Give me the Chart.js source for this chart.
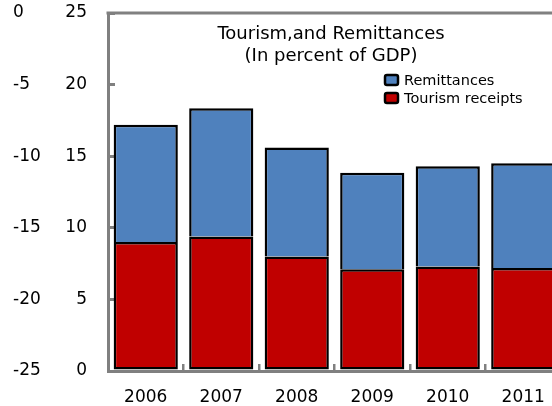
<!DOCTYPE html>
<html>
<head>
<meta charset="utf-8">
<script src="https://cdn.jsdelivr.net/npm/chart.js@4"></script>
<style>
  html, body { margin: 0; padding: 0; background: #fff; overflow: hidden; }
</style>
</head>
<body>
<canvas id="chart" width="564" height="406"></canvas>
<script>
// Tourism receipts and remittances, percent of GDP
const YEARS       = ['2006', '2007', '2008', '2009', '2010', '2011'];
const TOURISM     = [9.0, 9.4, 8.0, 7.1, 7.3, 7.2];
const REMITTANCES = [8.2, 8.95, 7.6, 6.75, 7.0, 7.3];
const TITLE_LINES = ['Tourism,and Remittances', '(In percent of GDP)'];

const FONT   = '"DejaVu Sans", sans-serif';
const AXIS   = '#808080';

// fixed axis sizes; the big label padding must not leak into the layout
function fixWidth(w) {
    return (s) => { s.width = w; s.paddingTop = 10; s.paddingBottom = 10; };
}
function fixHeight(h) {
    return (s) => { s.height = h; s.paddingLeft = 0; s.paddingRight = 0; };
}

// frame on top/right of the plot, title + legend inside the plot area
const insideText = {
    id: 'insideText',
    beforeDatasetsDraw(chart) {
        const { ctx, chartArea } = chart;
        ctx.save();
        ctx.strokeStyle = AXIS;
        ctx.lineWidth = 3;
        ctx.beginPath();
        ctx.moveTo(chartArea.left - 1.5, chartArea.top);
        ctx.lineTo(chartArea.right, chartArea.top);
        ctx.lineTo(chartArea.right, chartArea.bottom);
        ctx.stroke();
        ctx.restore();
    },
    afterDatasetsDraw(chart) {
        const { ctx, chartArea } = chart;
        ctx.save();
        ctx.fillStyle = '#000';
        ctx.textAlign = 'center';
        ctx.textBaseline = 'middle';
        ctx.font = '18px ' + FONT;
        TITLE_LINES.forEach((t, i) => {
            ctx.fillText(t, chartArea.left + 223, chartArea.top + 21 + i * 22);
        });

        ctx.font = '14.5px ' + FONT;
        ctx.textAlign = 'left';
        const items = chart.data.datasets.slice().reverse();
        items.forEach((ds, i) => {
            const x = chartArea.left + 277;
            const y = chartArea.top + 67 + i * 18;
            ctx.beginPath();
            ctx.roundRect(x, y - 5, 13, 10, 2);
            ctx.fillStyle = ds.backgroundColor;
            ctx.fill();
            ctx.lineWidth = 2.5;
            ctx.strokeStyle = '#000';
            ctx.stroke();
            ctx.fillStyle = '#000';
            ctx.fillText(ds.label, x + 19, y + 1);
        });
        ctx.restore();
    }
};

new Chart(document.getElementById('chart'), {
    type: 'bar',
    data: {
        labels: YEARS,
        datasets: [
            { label: 'Tourism receipts', data: TOURISM, backgroundColor: '#C00000',
              borderColor: '#000', borderWidth: 2.5, borderSkipped: false },
            { label: 'Remittances', data: REMITTANCES, backgroundColor: '#4F81BD',
              borderColor: '#000', borderWidth: 2.5 },
        ]
    },
    options: {
        responsive: false,
        animation: false,
        layout: { padding: { left: 13, top: 13, right: 3, bottom: 0 } },
        categoryPercentage: 1,
        barPercentage: 0.85,
        plugins: {
            legend: { display: false },
            tooltip: { enabled: false },
        },
        scales: {
            x: {
                stacked: true,
                offset: true,
                grid: { drawOnChartArea: false, offset: true, tickLength: -7, color: AXIS, lineWidth: 2.5 },
                border: { color: AXIS, width: 3 },
                ticks: { color: '#000', font: { family: FONT, size: 17 }, padding: 23 },
                afterFit: fixHeight(35),
            },
            y: {
                stacked: true,
                min: 0,
                max: 25,
                ticks: { stepSize: 5, color: '#000', font: { family: FONT, size: 17 }, padding: 28 },
                grid: { drawOnChartArea: false, tickLength: -7, color: AXIS, lineWidth: 3 },
                border: { color: AXIS, width: 3 },
                afterFit: fixWidth(50),
            },
            y2: {
                position: 'left',
                weight: 1,
                min: -25,
                max: 0,
                ticks: { stepSize: 5, crossAlign: 'far', color: '#000', font: { family: FONT, size: 17 } },
                grid: { display: false },
                border: { display: false },
                afterFit: fixWidth(45),
            },
        }
    },
    plugins: [insideText]
});
</script>
</body>
</html>
